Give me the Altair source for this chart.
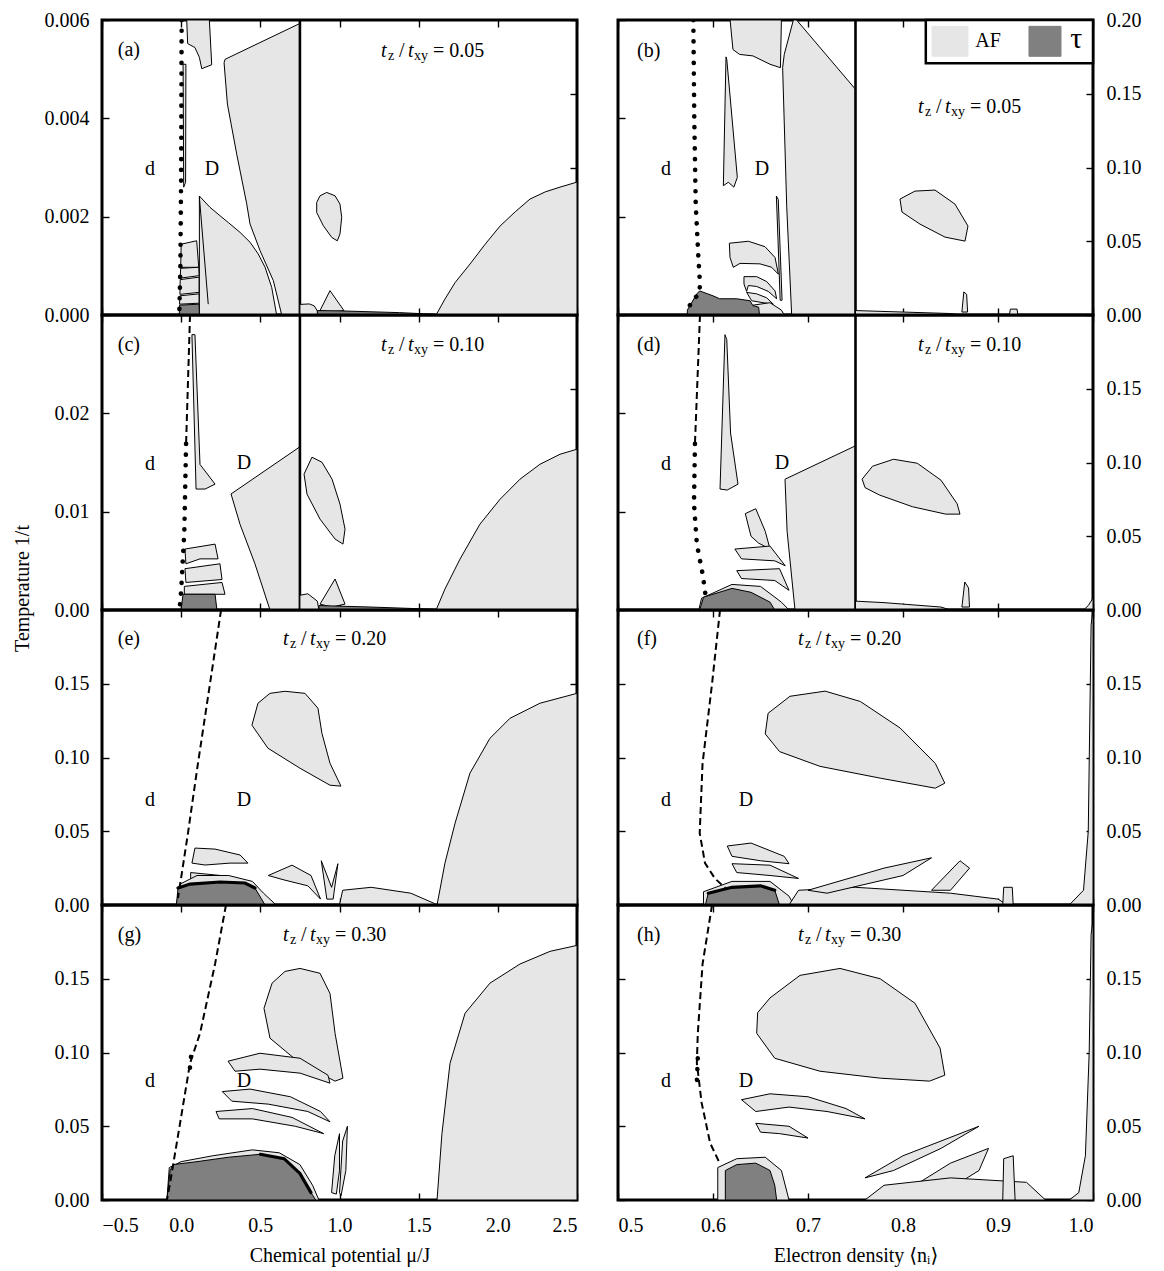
import altair as alt
import pandas as pd

FONT = "Liberation Serif, DejaVu Serif, serif"
LIGHT = "#e6e6e6"
DARK = "#808080"
W, H = 475, 295

MU_DOMAIN = [-0.5, 2.5]
N_DOMAIN = [0.5, 1.0]
MU_TICKS = [-0.5, 0.0, 0.5, 1.0, 1.5, 2.0, 2.5]
N_TICKS = [0.5, 0.6, 0.7, 0.8, 0.9, 1.0]
Y_MAX_LO = [0.006, 0.03, 0.2, 0.2]
Y_MAX_HI = 0.2
Y_TICKS_LO = [[0, 0.002, 0.004, 0.006], [0, 0.01, 0.02], [0, 0.05, 0.10, 0.15], [0, 0.05, 0.10, 0.15]]
Y_FMT_LO = [".3f", ".2f", ".2f", ".2f"]
Y_TICKS_HI_TOP = [0, 0.05, 0.10, 0.15, 0.20]
Y_TICKS_HI = [0, 0.05, 0.10, 0.15]
TZ_VALUES = ["0.05", "0.10", "0.20", "0.30"]
X_TITLE_L = "Chemical potential  \u03bc/J"
X_TITLE_R = "Electron density  \u27e8n\u1d62\u27e9"
Y_TITLE = "Temperature  1/t"

# ---------------- panel (a) ----------------
A_AF = [
    [(0.012, 0.0051), (0.030, 0.0051), (0.028, 0.0027), (0.016, 0.0026)],
    [(0.035, 0.006), (0.041, 0.00552), (0.087, 0.00544), (0.115, 0.00524), (0.130, 0.00501), (0.193, 0.00509), (0.178, 0.006)],
    [(0.277, 0.0052), (0.75, 0.00593), (0.75, 0), (0.635, 0), (0.582, 0.0007), (0.498, 0.00131), (0.435, 0.00185),
     (0.414, 0.00226), (0.351, 0.00327), (0.292, 0.00429), (0.271, 0.00513)],
    [(0.115, 0.00242), (0.182, 0.00219), (0.245, 0.00202), (0.298, 0.00188), (0.372, 0.00168), (0.435, 0.00148),
     (0.487, 0.00124), (0.530, 0.00097), (0.572, 0.00056), (0.603, 0), (0.115, 0)],
    [(0.0, 0.00144), (0.098, 0.00151), (0.111, 0.00097), (-0.003, 0.00097)],
    [(-0.003, 0.00095), (0.111, 0.00097), (0.113, 0.0008), (-0.006, 0.00075)],
    [(-0.006, 0.00072), (0.113, 0.00077), (0.113, 0.00046), (-0.008, 0.00042)],
    [(-0.008, 0.00039), (0.113, 0.00043), (0.113, 0.00024), (-0.01, 0.00022)],
]
A_TAU = [[(-0.01, 0.0002), (0.113, 0.00022), (0.115, 0), (-0.012, 0)]]
A_LINES = [[(0.115, 0.0024), (0.171, 0.00022)]]
A_DOTS = [[(0.003, 0.006), (0.0, 0.003), (-0.005, 0.001), (-0.012, 0.0)]]
A_AF_HI = [
    [(0.919, 0.0831), (0.972, 0.0808), (1.003, 0.0752), (1.014, 0.0662), (1.003, 0.0549), (0.986, 0.0503),
     (0.951, 0.0526), (0.898, 0.0605), (0.856, 0.0695), (0.856, 0.0763), (0.877, 0.0808)],
    [(0.75, 0), (0.75, 0.0072), (0.81, 0.0075), (0.84, 0.0062), (0.865, 0.002), (0.87, 0)],
    [(0.877, 0.003), (0.94, 0.0165), (1.028, 0.003), (0.95, 0.002)],
    [(1.61, 0), (1.666, 0.0108), (1.73, 0.022), (1.824, 0.0345), (1.92, 0.048), (2.014, 0.0603), (2.11, 0.070),
     (2.203, 0.0786), (2.30, 0.0835), (2.393, 0.0867), (2.5, 0.0901), (2.5, 0)],
]
A_TAU_HI = [[(0.86, 0), (0.86, 0.003), (1.0, 0.0028), (1.38, 0.0016), (1.6, 0.0005), (1.62, 0)]]
A_TEXT = [("(a)", -0.40, 0.00538, "left"), ("d", -0.197, 0.00297, "center"), ("D", 0.195, 0.00297, "center")]
A_TITLE = (1.262, 0.00536)

# ---------------- panel (b) ----------------
B_AF = [
    [(0.618, 0.006), (0.621, 0.0054), (0.628, 0.0053), (0.642, 0.00527), (0.660, 0.0051), (0.671, 0.00503), (0.672, 0.006)],
    [(0.6733, 0.00503), (0.675, 0.0053), (0.6846, 0.006), (0.688, 0.006), (0.75, 0.00459), (0.75, 0), (0.6828, 0), (0.6776, 0.0022)],
    [(0.6137, 0.00525), (0.6145, 0.0052), (0.6256, 0.0028), (0.622, 0.0026), (0.6161, 0.0027), (0.6109, 0.00263)],
    [(0.6667, 0.00242), (0.6687, 0.00235), (0.6727, 0.0003), (0.6707, 0.0003), (0.6685, 0.0015)],
    [(0.6172, 0.00146), (0.6372, 0.0015), (0.6547, 0.00139), (0.6653, 0.00117), (0.6688, 0.00083), (0.6618, 0.00097),
     (0.6495, 0.00104), (0.6284, 0.00105), (0.6214, 0.00097), (0.6179, 0.00117)],
    [(0.6326, 0.00078), (0.646, 0.00078), (0.6565, 0.00068), (0.6653, 0.00049), (0.667, 0.00033), (0.6582, 0.00048),
     (0.646, 0.00058), (0.6372, 0.0006), (0.6354, 0.00048), (0.6326, 0.00063)],
    [(0.6354, 0.00046), (0.646, 0.00043), (0.6565, 0.00035), (0.6635, 0.00022), (0.6495, 0.00026), (0.6407, 0.00029)],
    [(0.64, 0), (0.642, 0.0002), (0.66, 0.00025), (0.672, 0.0001), (0.675, 0)],
]
B_TAU = [[(0.573, 0), (0.573, 0.0001), (0.583, 0.00043), (0.586, 0.00049), (0.600, 0.00039), (0.607, 0.00033),
          (0.625, 0.00033), (0.639, 0.00029), (0.642, 0.00019), (0.648, 0.00016), (0.649, 0)]]
B_LINES = []
B_DOTS = [[(0.5793, 0.006), (0.5803, 0.004), (0.5818, 0.00226), (0.5846, 0.00118), (0.5863, 0.00063),
           (0.5856, 0.00043), (0.5776, 0.00029), (0.574, 0.00012)]]
B_AF_HI = [
    [(0.7968, 0.0786), (0.8126, 0.084), (0.8337, 0.0847), (0.8547, 0.0752), (0.8684, 0.0603), (0.8653, 0.0501),
     (0.8442, 0.0528), (0.8179, 0.0616), (0.7989, 0.0698)],
    [(0.75, 0), (0.75, 0.003), (0.80, 0.002), (0.85, 0.001), (0.86, 0)],
    [(0.862, 0.002), (0.864, 0.0156), (0.867, 0.014), (0.868, 0.002)],
    [(0.912, 0), (0.913, 0.004), (0.92, 0.004), (0.921, 0)],
]
B_TAU_HI = []
B_TEXT = [("(b)", 0.52, 0.00536, "left"), ("d", 0.5505, 0.00297, "center"), ("D", 0.6516, 0.00297, "center")]
B_TITLE = (0.8158, 0.00423)

# ---------------- panel (c) ----------------
C_AF = [
    [(0.068, 0.028), (0.087, 0.028), (0.119, 0.0148), (0.214, 0.0128), (0.151, 0.0123), (0.094, 0.0123)],
    [(0.315, 0.0118), (0.75, 0.0166), (0.75, 0), (0.561, 0), (0.466, 0.0047), (0.372, 0.0087)],
    [(0.024, 0.0062), (0.214, 0.0067), (0.233, 0.0052), (0.119, 0.0052), (0.03, 0.0047)],
    [(0.024, 0.0042), (0.245, 0.0047), (0.258, 0.0031), (0.03, 0.0028)],
    [(0.02, 0.0024), (0.258, 0.0028), (0.277, 0.0016), (0.02, 0.0016)],
]
C_TAU = [[(0.012, 0.0016), (0.214, 0.0016), (0.226, 0), (-0.001, 0)]]
C_LINES = []
C_DOTS = [[(0.031, 0.0169), (0.02, 0.008), (0.0, 0.002), (-0.01, 0.0)]]
C_DASH = [[(0.056, 0.03), (0.031, 0.0169)]]
C_AF_HI = [
    [(0.826, 0.1036), (0.889, 0.1002), (0.953, 0.0887), (1.003, 0.0718), (1.035, 0.0548), (1.022, 0.0447),
     (0.972, 0.0481), (0.877, 0.0616), (0.795, 0.0785), (0.776, 0.0921)],
    [(0.75, 0), (0.75, 0.01), (0.80, 0.011), (0.86, 0.006), (0.87, 0)],
    [(0.877, 0.004), (0.972, 0.021), (1.035, 0.004), (0.95, 0.002)],
    [(1.61, 0), (1.666, 0.0142), (1.761, 0.0345), (1.887, 0.0582), (2.014, 0.0751), (2.14, 0.0887),
     (2.266, 0.0988), (2.393, 0.1056), (2.5, 0.109), (2.5, 0)],
]
C_TAU_HI = [[(0.87, 0), (0.87, 0.003), (1.2, 0.002), (1.6, 0.0005), (1.62, 0)]]
C_TEXT = [("(c)", -0.40, 0.0269, "left"), ("d", -0.197, 0.0148, "center"), ("D", 0.397, 0.015, "center")]
C_TITLE = (1.262, 0.0269)

# ---------------- panel (d) ----------------
D_AF = [
    [(0.6126, 0.028), (0.6145, 0.0275), (0.6185, 0.018), (0.6263, 0.0128), (0.615, 0.0122), (0.6074, 0.0123)],
    [(0.634, 0.0098), (0.645, 0.0103), (0.655, 0.008), (0.66, 0.0062), (0.648, 0.0068), (0.64, 0.0075)],
    [(0.623, 0.0062), (0.66, 0.0065), (0.676, 0.0045), (0.665, 0.005), (0.63, 0.0052)],
    [(0.625, 0.004), (0.67, 0.0042), (0.68, 0.002), (0.665, 0.003), (0.63, 0.0032)],
    [(0.6758, 0.0133), (0.75, 0.0167), (0.75, 0), (0.6863, 0), (0.678, 0.008)],
    [(0.585, 0), (0.588, 0.0012), (0.62, 0.0026), (0.65, 0.0024), (0.672, 0.0008), (0.68, 0)],
]
D_TAU = [[(0.586, 0), (0.590, 0.0013), (0.62, 0.0022), (0.64, 0.0018), (0.66, 0.0008), (0.665, 0)]]
D_LINES = []
D_DOTS = [[(0.581, 0.0169), (0.58, 0.0108), (0.583, 0.0067), (0.589, 0.0037), (0.592, 0.0016)]]
D_DASH = [[(0.5863, 0.03), (0.581, 0.0169)]]
D_AF_HI = [
    [(0.757, 0.0887), (0.768, 0.0975), (0.79, 0.1022), (0.815, 0.0995), (0.84, 0.088), (0.857, 0.072),
     (0.86, 0.065), (0.845, 0.065), (0.81, 0.07), (0.775, 0.078), (0.76, 0.083)],
    [(0.862, 0.002), (0.865, 0.019), (0.869, 0.015), (0.87, 0.002)],
    [(0.75, 0), (0.75, 0.006), (0.78, 0.005), (0.84, 0.002), (0.85, 0)],
    [(0.99, 0), (0.995, 0.003), (1.0, 0.008), (1.0, 0)],
]
D_TAU_HI = []
D_TEXT = [("(d)", 0.52, 0.0269, "left"), ("d", 0.5505, 0.0148, "center"), ("D", 0.6726, 0.015, "center")]
D_TITLE = (0.8158, 0.0269)

# ---------------- panel (e) ----------------
E_AF = [
    [(0.656, 0.1449), (0.782, 0.1435), (0.864, 0.1334), (0.889, 0.1164), (0.940, 0.0961), (1.009, 0.0806),
     (0.94, 0.0812), (0.751, 0.0927), (0.548, 0.1063), (0.447, 0.1219), (0.485, 0.1368), (0.561, 0.1435)],
    [(0.087, 0.0386), (0.214, 0.0379), (0.372, 0.0339), (0.422, 0.0284), (0.308, 0.0284), (0.151, 0.0271), (0.068, 0.0284)],
    [(0.06, 0.022), (0.25, 0.02), (0.42, 0.016), (0.30, 0.015), (0.06, 0.016)],
    [(-0.03, 0), (-0.01, 0.014), (0.1, 0.02), (0.3, 0.02), (0.45, 0.016), (0.52, 0.008), (0.6, 0)],
    [(0.55, 0.02), (0.70, 0.027), (0.82, 0.02), (0.88, 0.004), (0.80, 0.013), (0.65, 0.017)],
    [(0.885, 0.03), (0.92, 0.004), (0.96, 0.004), (0.99, 0.028), (0.95, 0.012)],
    [(1.0, 0), (1.02, 0.01), (1.2, 0.012), (1.45, 0.008), (1.6, 0.001), (1.6, 0)],
    [(1.616, 0), (1.666, 0.0284), (1.73, 0.0555), (1.824, 0.0894), (1.95, 0.113), (2.077, 0.1266), (2.266, 0.1368),
     (2.5, 0.1435), (2.5, 0)],
]
E_TAU = [[(-0.03, 0), (-0.02, 0.0115), (0.056, 0.0142), (0.245, 0.0156), (0.403, 0.0149), (0.466, 0.0115), (0.53, 0)]]
E_LINES = []
E_THICK = [[(-0.02, 0.0115), (0.056, 0.0142), (0.245, 0.0156), (0.403, 0.0149), (0.466, 0.0115)]]
E_DASH = [[(0.252, 0.2), (0.182, 0.150), (0.106, 0.096), (0.043, 0.0487), (-0.02, 0.0047)]]
E_TEXT = [("(e)", -0.40, 0.1802, "left"), ("d", -0.197, 0.0711, "center"), ("D", 0.397, 0.0711, "center")]
E_TITLE = (0.643, 0.1802)

# ---------------- panel (f) ----------------
F_AF = [
    [(0.658, 0.13), (0.681, 0.1415), (0.718, 0.145), (0.755, 0.138), (0.797, 0.12), (0.834, 0.096), (0.844, 0.0826),
     (0.834, 0.0792), (0.776, 0.086), (0.7126, 0.094), (0.67, 0.104), (0.655, 0.116)],
    [(0.615, 0.04), (0.64, 0.042), (0.675, 0.033), (0.68, 0.028), (0.65, 0.03), (0.62, 0.033)],
    [(0.62, 0.028), (0.66, 0.027), (0.69, 0.018), (0.66, 0.02), (0.625, 0.022)],
    [(0.59, 0), (0.59, 0.009), (0.62, 0.016), (0.66, 0.016), (0.68, 0.006), (0.685, 0)],
    [(0.68, 0), (0.69, 0.01), (0.75, 0.012), (0.85, 0.008), (0.9, 0.004), (0.91, 0)],
    [(0.70, 0.01), (0.78, 0.025), (0.83, 0.032), (0.80, 0.02), (0.72, 0.008)],
    [(0.83, 0.01), (0.86, 0.03), (0.87, 0.025), (0.85, 0.01)],
    [(0.905, 0), (0.906, 0.012), (0.915, 0.012), (0.916, 0)],
    [(0.975, 0), (0.99, 0.01), (0.995, 0.05), (0.998, 0.19), (1.0, 0.2), (1.0, 0)],
]
F_TAU = [[(0.592, 0), (0.595, 0.008), (0.62, 0.012), (0.65, 0.013), (0.665, 0.01), (0.67, 0)]]
F_LINES = []
F_THICK = [[(0.595, 0.008), (0.62, 0.012), (0.65, 0.013), (0.665, 0.01)]]
F_DASH = [[(0.6074, 0.2), (0.599, 0.15), (0.589, 0.096), (0.586, 0.0487), (0.5916, 0.0284), (0.602, 0.018), (0.613, 0.0115)]]
F_TEXT = [("(f)", 0.52, 0.1802, "left"), ("d", 0.5505, 0.0711, "center"), ("D", 0.6347, 0.0711, "center")]
F_TITLE = (0.6895, 0.1802)

# ---------------- panel (g) ----------------
G_AF = [
    [(0.751, 0.157), (0.877, 0.1537), (0.94, 0.14), (0.972, 0.113), (1.022, 0.0826), (0.972, 0.0806), (0.751, 0.0927),
     (0.561, 0.1097), (0.523, 0.13), (0.574, 0.147), (0.656, 0.155)],
    [(0.296, 0.0941), (0.498, 0.0995), (0.751, 0.0961), (0.927, 0.0846), (0.94, 0.0792), (0.751, 0.086), (0.498, 0.0887), (0.34, 0.0873)],
    [(0.26, 0.0735), (0.435, 0.0752), (0.69, 0.070), (0.88, 0.060), (0.94, 0.053), (0.80, 0.060), (0.55, 0.065), (0.32, 0.067)],
    [(0.22, 0.060), (0.45, 0.062), (0.70, 0.056), (0.90, 0.045), (0.72, 0.050), (0.45, 0.055), (0.24, 0.055)],
    [(-0.09, 0), (-0.075, 0.022), (0.0, 0.026), (0.2, 0.03), (0.45, 0.034), (0.62, 0.032), (0.75, 0.024), (0.83, 0.01), (0.87, 0)],
    [(0.95, 0.005), (0.97, 0.03), (1.0, 0.045), (1.0, 0.02), (0.98, 0.004)],
    [(1.0, 0.005), (1.02, 0.04), (1.05, 0.05), (1.04, 0.02), (1.01, 0.003)],
    [(1.616, 0), (1.647, 0.045), (1.698, 0.0927), (1.793, 0.1266), (1.95, 0.147), (2.14, 0.16), (2.33, 0.1686),
     (2.5, 0.1726), (2.5, 0)],
]
G_TAU = [[(-0.09, 0), (-0.07, 0.02), (-0.05, 0.024), (0.1, 0.026), (0.3, 0.029), (0.5, 0.031), (0.65, 0.028),
          (0.75, 0.018), (0.82, 0.005), (0.85, 0)]]
G_LINES = []
G_THICK = [[(0.5, 0.031), (0.65, 0.028), (0.75, 0.018), (0.82, 0.005)]]
G_DASH = [[(0.283, 0.2), (0.214, 0.16), (0.119, 0.113), (0.056, 0.0927), (-0.007, 0.052), (-0.07, 0.0115), (-0.09, 0.0)]]
G_DOTS = [[(0.062, 0.097), (0.054, 0.088)]]
G_TEXT = [("(g)", -0.40, 0.1795, "left"), ("d", -0.197, 0.0806, "center"), ("D", 0.397, 0.0806, "center")]
G_TITLE = (0.643, 0.1795)

# ---------------- panel (h) ----------------
H_AF = [
    [(0.66, 0.137), (0.6916, 0.1523), (0.7337, 0.157), (0.776, 0.150), (0.8126, 0.1334), (0.839, 0.103), (0.844, 0.0846),
     (0.828, 0.0806), (0.776, 0.0826), (0.7126, 0.0873), (0.665, 0.0961), (0.646, 0.113), (0.647, 0.127)],
    [(0.63, 0.068), (0.66, 0.072), (0.70, 0.07), (0.74, 0.062), (0.76, 0.055), (0.72, 0.06), (0.68, 0.063), (0.645, 0.06)],
    [(0.645, 0.052), (0.68, 0.05), (0.70, 0.042), (0.67, 0.045), (0.65, 0.046)],
    [(0.605, 0), (0.605, 0.022), (0.625, 0.028), (0.655, 0.029), (0.672, 0.02), (0.68, 0)],
    [(0.76, 0.015), (0.80, 0.03), (0.86, 0.045), (0.88, 0.05), (0.84, 0.035), (0.79, 0.02)],
    [(0.80, 0.005), (0.85, 0.025), (0.89, 0.035), (0.88, 0.02), (0.85, 0.008)],
    [(0.76, 0), (0.78, 0.01), (0.85, 0.015), (0.93, 0.012), (0.95, 0)],
    [(0.905, 0), (0.906, 0.028), (0.916, 0.03), (0.918, 0)],
    [(0.975, 0), (0.985, 0.005), (0.992, 0.03), (0.996, 0.1), (0.998, 0.18), (1.0, 0.19), (1.0, 0)],
]
H_TAU = [[(0.613, 0), (0.613, 0.02), (0.625, 0.024), (0.645, 0.025), (0.66, 0.02), (0.665, 0.01), (0.667, 0)]]
H_LINES = []
H_THICK = []
H_DASH = [[(0.599, 0.2), (0.589, 0.16), (0.584, 0.113), (0.583, 0.093), (0.588, 0.066), (0.597, 0.0386), (0.607, 0.025)]]
H_DOTS = [[(0.584, 0.096), (0.583, 0.080)]]
H_TEXT = [("(h)", 0.52, 0.1795, "left"), ("d", 0.5505, 0.0806, "center"), ("D", 0.6347, 0.0806, "center")]
H_TITLE = (0.6895, 0.1795)

# legend box (panel b, upper scale)
LEG_BOX = (0.824, 1.0, 0.1707, 0.2)
LEG_ITEMS = [("AF", LIGHT, 0.8305, 0.8684, 0.876), ("\u03c4", DARK, 0.9326, 0.9663, 0.976)]
LEG_Y = (0.1754, 0.1957, 0.1856)


def poly_df(polys, close=True):
    rows = []
    for k, p in enumerate(polys):
        pts = list(p) + ([p[0]] if close else [])
        for i, (x, y) in enumerate(pts):
            rows.append({"pid": k, "i": i, "x": x, "y": y})
    return pd.DataFrame(rows, columns=["pid", "i", "x", "y"])


AX_COMMON = dict(domain=False, grid=False, ticks=True, tickSize=7, offset=-7, tickColor="black",
                 tickWidth=1.4, labelFont=FONT, labelFontSize=20, labelColor="black",
                 titleFont=FONT, titleFontSize=20, titleFontWeight="normal", titleColor="black",
                 labelOverlap=False)


def build_panel(row, col, P):
    left = col == 0
    xdom = MU_DOMAIN if left else N_DOMAIN
    xticks = MU_TICKS if left else N_TICKS
    bottom = row == 3
    xb_kw = dict(orient="bottom", values=xticks, format=".1f", labels=bottom, labelPadding=15)
    if bottom:
        xb_kw.update(title=(X_TITLE_L if left else X_TITLE_R), titlePadding=10)
    else:
        xb_kw.update(title=None)
    xa_b = alt.Axis(**xb_kw, **AX_COMMON)
    xa_t = alt.Axis(orient="top", values=xticks, labels=False, title=None, **AX_COMMON)
    yl_kw = dict(orient="left", values=Y_TICKS_LO[row], format=Y_FMT_LO[row], labels=left, labelPadding=13)
    if left and row == 1:
        yl_kw.update(title=Y_TITLE, titleY=H - 22, titlePadding=22)
    else:
        yl_kw.update(title=None)
    ya_l = alt.Axis(**yl_kw, **AX_COMMON)
    ya_r = alt.Axis(orient="right", values=(Y_TICKS_HI_TOP if row == 0 else Y_TICKS_HI), format=".2f",
                    labels=not left, labelPadding=13, title=None, **AX_COMMON)

    xs = alt.Scale(domain=xdom, nice=False, zero=False)
    ys_lo = alt.Scale(domain=[0, Y_MAX_LO[row]], nice=False, zero=False)
    ys_hi = alt.Scale(domain=[0, Y_MAX_HI], nice=False, zero=False)

    def enc(hi):
        return dict(x=alt.X("x:Q", scale=xs, axis=(xa_t if hi else xa_b)),
                    y=alt.Y("y:Q", scale=(ys_hi if hi else ys_lo), axis=(ya_r if hi else ya_l)))

    def polys(data, fill, hi):
        return alt.Chart(poly_df(data)).mark_line(fill=fill, stroke="black", strokeWidth=1, clip=True,
                                                  strokeJoin="round").encode(
            detail="pid:N", order=alt.Order("i:Q"), **enc(hi))

    def lines(data, hi, **style):
        return alt.Chart(poly_df(data, close=False)).mark_line(clip=True, color="black", **style).encode(
            detail="pid:N", order=alt.Order("i:Q"), **enc(hi))

    lo = []
    hi = []
    for key, fill in (("AF", LIGHT), ("TAU", DARK)):
        if P.get(key):
            lo.append(polys(P[key], fill, False))
    for key, fill in (("AF_HI", LIGHT), ("TAU_HI", DARK)):
        if P.get(key):
            hi.append(polys(P[key], fill, True))
    if P.get("LINES"):
        lo.append(lines(P["LINES"], False, strokeWidth=1))
    if P.get("THICK"):
        lo.append(lines(P["THICK"], False, strokeWidth=3.2, strokeCap="round"))
    if P.get("DASH"):
        lo.append(lines(P["DASH"], False, strokeWidth=2, strokeDash=[7, 4]))
    if P.get("DOTS"):
        lo.append(lines(P["DOTS"], False, strokeWidth=4.6, strokeDash=[0.1, 10.6], strokeCap="round"))
    if row < 2:
        lo.append(alt.Chart(pd.DataFrame({"x": [0.75]})).mark_rule(color="black", strokeWidth=2.6).encode(
            x=alt.X("x:Q", scale=xs, axis=xa_b)))

    tdf = pd.DataFrame([{"t": t, "x": x, "y": y, "a": a} for (t, x, y, a) in P["TEXT"]])
    for a in ("left", "center"):
        sub = tdf[tdf["a"] == a]
        lo.append(alt.Chart(sub).mark_text(font=FONT, fontSize=20, align=a, baseline="middle",
                                           color="black").encode(text="t:N", **enc(False)))
    tx, ty = P["TITLE"]
    pieces = [("t", "italic", 20, 0, 0), ("z", "normal", 14, 7, 5), ("/", "normal", 20, 18, 0),
              ("t", "italic", 20, 27, 0), ("xy", "normal", 14, 33, 5),
              ("= " + TZ_VALUES[row], "normal", 20, 52, 0)]
    tdf2 = pd.DataFrame({"x": [tx], "y": [ty]})
    for txt, style, size, dx, dy in pieces:
        lo.append(alt.Chart(tdf2).mark_text(text=txt, font=FONT, fontSize=size, fontStyle=style, align="left",
                                            baseline="middle", dx=dx, dy=dy, color="black").encode(**enc(False)))

    if row == 0 and col == 1:
        x0, x1, y0, y1 = LEG_BOX
        box = pd.DataFrame({"x": [x0], "x2": [x1], "y": [y0], "y2": [y1]})
        e = enc(True)
        hi.append(alt.Chart(box).mark_rect(fill="white", stroke="black", strokeWidth=2.5).encode(
            x=e["x"], x2="x2:Q", y=e["y"], y2="y2:Q"))
        sy0, sy1, ty_ = LEG_Y
        for lab, col_, sx0, sx1, tx_ in LEG_ITEMS:
            sq = pd.DataFrame({"x": [sx0], "x2": [sx1], "y": [sy0], "y2": [sy1]})
            hi.append(alt.Chart(sq).mark_rect(fill=col_, stroke=col_).encode(
                x=e["x"], x2="x2:Q", y=e["y"], y2="y2:Q"))
            big = lab != "AF"
            hi.append(alt.Chart(pd.DataFrame({"x": [tx_], "y": [ty_]})).mark_text(
                text=lab, font=FONT, fontSize=(30 if big else 20), align="left", baseline="middle",
                dy=(-2 if big else 0), color="black").encode(**e))

    if not hi:
        hi.append(alt.Chart(pd.DataFrame({"x": [xdom[0]], "y": [0.0]})).mark_point(opacity=0).encode(**enc(True)))

    ch = alt.layer(alt.layer(*lo), alt.layer(*hi)).resolve_scale(y="independent").resolve_axis(
        x="independent", y="independent")
    return ch.properties(width=W, height=H)


PANELS = [
    dict(AF=A_AF, TAU=A_TAU, AF_HI=A_AF_HI, TAU_HI=A_TAU_HI, LINES=A_LINES, DOTS=A_DOTS, TEXT=A_TEXT, TITLE=A_TITLE),
    dict(AF=B_AF, TAU=B_TAU, AF_HI=B_AF_HI, TAU_HI=B_TAU_HI, LINES=B_LINES, DOTS=B_DOTS, TEXT=B_TEXT, TITLE=B_TITLE),
    dict(AF=C_AF, TAU=C_TAU, AF_HI=C_AF_HI, TAU_HI=C_TAU_HI, LINES=C_LINES, DOTS=C_DOTS, DASH=C_DASH, TEXT=C_TEXT, TITLE=C_TITLE),
    dict(AF=D_AF, TAU=D_TAU, AF_HI=D_AF_HI, TAU_HI=D_TAU_HI, LINES=D_LINES, DOTS=D_DOTS, DASH=D_DASH, TEXT=D_TEXT, TITLE=D_TITLE),
    dict(AF=E_AF, TAU=E_TAU, LINES=E_LINES, THICK=E_THICK, DASH=E_DASH, TEXT=E_TEXT, TITLE=E_TITLE),
    dict(AF=F_AF, TAU=F_TAU, LINES=F_LINES, THICK=F_THICK, DASH=F_DASH, TEXT=F_TEXT, TITLE=F_TITLE),
    dict(AF=G_AF, TAU=G_TAU, LINES=G_LINES, THICK=G_THICK, DASH=G_DASH, DOTS=G_DOTS, TEXT=G_TEXT, TITLE=G_TITLE),
    dict(AF=H_AF, TAU=H_TAU, LINES=H_LINES, THICK=H_THICK, DASH=H_DASH, DOTS=H_DOTS, TEXT=H_TEXT, TITLE=H_TITLE),
]

panels = [build_panel(k // 2, k % 2, PANELS[k]) for k in range(8)]
chart = alt.concat(*panels, columns=2, spacing={"row": 0, "column": 41}, bounds="flush").configure_view(
    stroke="black", strokeWidth=3).properties(padding={"left": 2, "top": 0, "right": 5, "bottom": 5},
                                              background="white")

chart.save("out.html", embed_options={"renderer": "svg", "actions": False})
